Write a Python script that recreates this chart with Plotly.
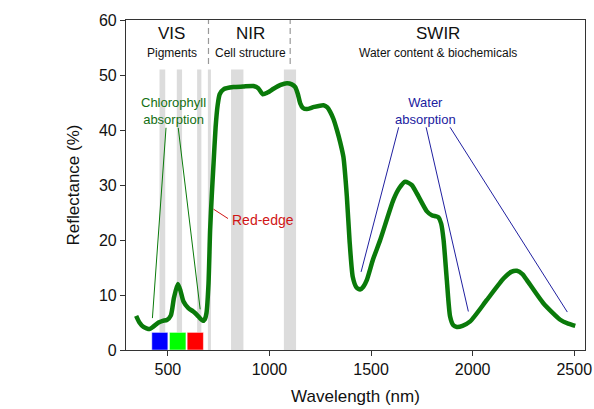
import plotly.graph_objects as go

# ---- data ----
wavelength = [344, 360, 380, 410, 430, 454, 475, 495, 515, 530, 549, 562, 577, 601, 625, 643,
              660, 672, 682, 690, 700, 708, 716, 725, 735, 745, 755, 774, 823, 870, 921, 945,
              967, 990, 1020, 1055, 1086, 1110, 1127, 1140, 1151, 1165, 1184, 1220, 1266, 1285,
              1299, 1315, 1332, 1348, 1364, 1381, 1394, 1410, 1428, 1446, 1462, 1479, 1510,
              1545, 1610, 1640, 1668, 1700, 1725, 1775, 1799, 1820, 1832, 1845, 1857, 1873,
              1889, 1905, 1922, 1950, 1988, 2070, 2152, 2190, 2218, 2245, 2267, 2348, 2431,
              2470, 2505]
reflectance = [6.2, 5.0, 4.2, 3.8, 4.3, 5.0, 5.3, 5.45, 6.3, 9.5, 12.0, 10.8, 8.8, 7.6, 7.0, 6.4,
               5.7, 5.3, 5.6, 6.7, 12.0, 21.8, 28.0, 34.0, 40.5, 44.5, 46.5, 47.4, 47.8, 47.9, 48.0, 47.6,
               46.5, 46.8, 47.5, 48.2, 48.5, 48.3, 47.8, 46.5, 44.9, 44.0, 43.8, 44.2, 44.5, 44.1,
               43.3, 42.0, 40.0, 37.8, 35.1, 27.9, 20.0, 13.3, 11.4, 11.0, 11.5, 12.7, 16.5,
               20.0, 27.3, 29.5, 30.6, 30.0, 28.5, 25.2, 24.5, 24.3, 24.1, 23.0, 20.0, 12.7,
               6.1, 4.5, 4.2, 4.4, 5.2, 9.1, 13.0, 14.2, 14.4, 13.8, 12.7, 8.5, 5.5,
               4.8, 4.4]

band_start = [459, 544, 644, 697, 811, 1071]
band_end = [487, 570, 665, 712, 872, 1131]
band_top = 51

rgb_start = [421, 508, 595]
rgb_end = [500, 589, 675]
rgb_colors = ["#0000ff", "#00ff00", "#ff0000"]
rgb_top = 3.2

region_bounds = [700, 1102]
region_names = ["VIS", "NIR", "SWIR"]
region_subs = ["Pigments", "Cell structure", "Water content & biochemicals"]
region_x = [520, 905, 1830]

chl_lines_x = [[491, 424], [551, 659]]
chl_lines_y = [[40.4, 5.8], [40.4, 7.4]]
water_lines_x = [[1636, 1451], [1771, 1979], [1889, 2466]]
water_lines_y = [[40.5, 14.2], [40.5, 7.0], [40.5, 6.9]]
rededge_x = [725, 796]
rededge_y = [25.6, 23.9]

x_ticks = [500, 1000, 1500, 2000, 2500]
y_ticks = [0, 10, 20, 30, 40, 50, 60]

FONT = "Liberation Sans, Arial, sans-serif"
GREEN = "#0a7a0a"
BLUE = "#2020a0"
RED = "#d01515"

fig = go.Figure()

shapes = []
for s, e in zip(band_start, band_end):
    shapes.append(dict(type="rect", xref="x", yref="y", x0=s, x1=e, y0=0, y1=band_top,
                       fillcolor="#dcdcdc", line=dict(width=0), layer="below"))
for s, e, c in zip(rgb_start, rgb_end, rgb_colors):
    shapes.append(dict(type="rect", xref="x", yref="y", x0=s, x1=e, y0=0, y1=rgb_top,
                       fillcolor=c, line=dict(width=0.5, color="white"), layer="above"))
for b in region_bounds:
    shapes.append(dict(type="line", xref="x", yref="y", x0=b, x1=b, y0=52, y1=60,
                       line=dict(color="#999999", width=1.2, dash="6px,4px")))

for xs, ys in zip(chl_lines_x, chl_lines_y):
    fig.add_trace(go.Scatter(x=xs, y=ys, mode="lines", line=dict(color=GREEN, width=1),
                             showlegend=False, hoverinfo="skip"))
for xs, ys in zip(water_lines_x, water_lines_y):
    fig.add_trace(go.Scatter(x=xs, y=ys, mode="lines", line=dict(color=BLUE, width=1),
                             showlegend=False, hoverinfo="skip"))
fig.add_trace(go.Scatter(x=rededge_x, y=rededge_y, mode="lines", line=dict(color=RED, width=1),
                         showlegend=False, hoverinfo="skip"))

fig.add_trace(go.Scatter(x=wavelength, y=reflectance, mode="lines",
                         line=dict(color=GREEN, width=4.5, shape="spline", smoothing=0.6),
                         showlegend=False))

annotations = []
for name, sub, x in zip(region_names, region_subs, region_x):
    annotations.append(dict(x=x, y=57.6, xref="x", yref="y", text=name, showarrow=False,
                            font=dict(family=FONT, size=17, color="#111111")))
    annotations.append(dict(x=x, y=54.0, xref="x", yref="y", text=sub, showarrow=False,
                            font=dict(family=FONT, size=12, color="#111111")))
annotations.append(dict(x=527, y=43.4, xref="x", yref="y", text="Chlorophyll<br>absorption",
                        showarrow=False, font=dict(family=FONT, size=13, color="#137013")))
annotations.append(dict(x=1766, y=43.4, xref="x", yref="y", text="Water<br>absorption",
                        showarrow=False, font=dict(family=FONT, size=13, color=BLUE)))
annotations.append(dict(x=807, y=23.6, xref="x", yref="y", text="Red-edge", xanchor="left",
                        showarrow=False, font=dict(family=FONT, size=14, color=RED)))

fig.update_layout(
    width=594, height=409,
    margin=dict(l=126, r=9, t=20, b=59),
    paper_bgcolor="white", plot_bgcolor="white",
    shapes=shapes, annotations=annotations,
    font=dict(family=FONT, size=16, color="#111111"),
    xaxis=dict(range=[294, 2553], tickvals=x_ticks, ticks="outside", ticklen=5,
               tickcolor="#333333", showline=True, linecolor="#333333", linewidth=1.2,
               mirror=True, showgrid=False, zeroline=False, automargin=False,
               tickfont=dict(size=16),
               title=dict(text="Wavelength (nm)", font=dict(size=17), standoff=12)),
    yaxis=dict(range=[0, 60], tickvals=y_ticks, ticks="outside", ticklen=5,
               tickcolor="#333333", showline=True, linecolor="#333333", linewidth=1.2,
               mirror=True, showgrid=False, zeroline=False, automargin=False,
               tickfont=dict(size=16),
               title=dict(text="Reflectance (%)", font=dict(size=17), standoff=14)),
)

fig.write_html("out.html", config={"displayModeBar": False},
               post_script="document.body.style.margin='0';document.body.style.overflow='hidden';")
